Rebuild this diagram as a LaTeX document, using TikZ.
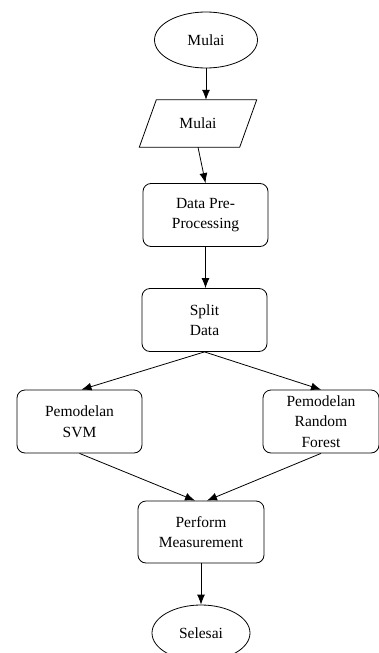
\documentclass[tikz,border=0pt]{standalone}
\usepackage{fontspec}
\setmainfont{Liberation Serif}
\usetikzlibrary{shapes.geometric,arrows.meta}
\begin{document}
\begin{tikzpicture}[x=1pt,y=-1pt,
  every node/.style={font=\fontsize{15.5}{20.5}\selectfont, align=center, inner sep=0pt},
  box/.style={draw, rounded corners=8pt, line width=0.8pt, minimum width=125pt, minimum height=63pt},
  oval/.style={draw, ellipse, line width=0.8pt, minimum width=103pt, minimum height=56pt},
  arr/.style={-{Latex[length=10pt,width=8pt]}, line width=0.8pt}]
\useasboundingbox (0,0) rectangle (379,653);
\clip (0,0) rectangle (379,653);
\node[oval] (start) at (206,40) {Mulai};
\node[minimum width=100pt, minimum height=47pt] (in) at (198,123.5) {Mulai};
\draw[line width=0.8pt] ([xshift=8.5pt]in.north west) -- ([xshift=8.5pt]in.north east)
  -- ([xshift=-8.5pt]in.south east) -- ([xshift=-8.5pt]in.south west) -- cycle;
\node[box] (dpp) at (205.5,215) {Data Pre-\\Processing};
\node[box] (split) at (204.5,320) {Split\\Data};
\node[box] (svm) at (79.5,421.5) {Pemodelan\\SVM};
\node[box, minimum width=116pt] (rf) at (321,421.5) {Pemodelan\\Random\\Forest};
\node[box, minimum width=126pt, minimum height=62pt] (perf) at (201,532) {Perform\\Measurement};
\node[oval, minimum width=98pt, minimum height=56pt] (end) at (201,633) {Selesai};
\draw[arr] (start.south) -- (start.south |- in.north);
\draw[arr] (in.south) -- (dpp.north);
\draw[arr] (dpp.south) -- (dpp.south |- split.north);
\draw[arr] (split.south) -- ([xshift=2pt]svm.north);
\draw[arr] (split.south) -- (rf.north);
\draw[arr] (svm.south) -- ([xshift=-6pt]perf.north);
\draw[arr] (rf.south) -- ([xshift=6pt]perf.north);
\draw[arr] (perf.south) -- (end.north);
\end{tikzpicture}
\end{document}
